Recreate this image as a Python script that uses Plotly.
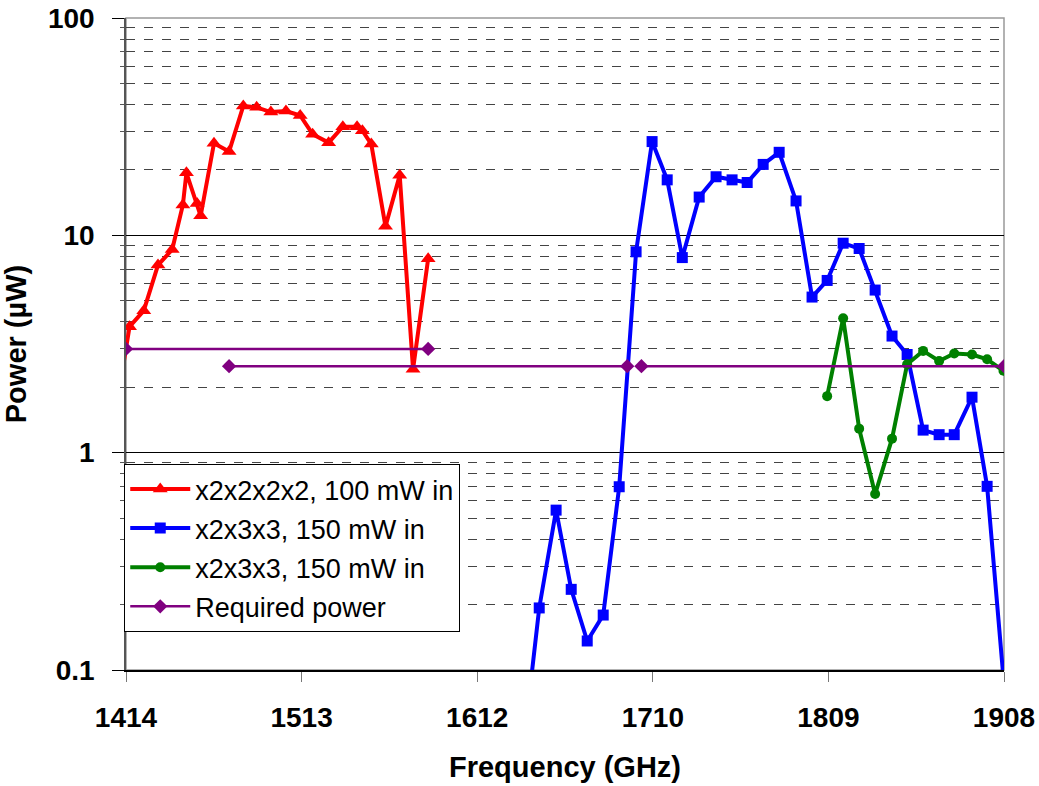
import numpy as np
import plotly.graph_objects as go

# x2x2x2x2 chain, 100 mW in (first point lies just left of the axis)
red_f = [1408, 1416, 1424, 1432, 1440, 1446, 1448, 1454, 1456, 1463.5, 1472, 1480,
         1487.5, 1495.5, 1504, 1512, 1519, 1528, 1536, 1544, 1547, 1552, 1560,
         1568, 1575.5, 1584]
red_p = [1.5, 3.8, 4.5, 7.3, 8.6, 13.8, 19.4, 14.0, 12.3, 26.5, 24.3, 39.4,
         38.8, 36.9, 37.3, 35.6, 29.2, 26.7, 31.6, 31.6, 30.3, 26.3, 11.0,
         18.9, 2.42, 7.8]

# x2x3x3 chain, 150 mW in (blue)
blue_f = [1637, 1646.5, 1656, 1664.5, 1673.5, 1682.5, 1691.5, 1701, 1710, 1718.5,
          1727, 1736.5, 1746, 1755, 1763.5, 1772.5, 1781.5, 1791, 1800, 1808.5,
          1817.5, 1826.5, 1835.5, 1845, 1853.5, 1862.5, 1871.5, 1880, 1890,
          1898.5, 1916]
blue_p = [0.04, 0.193, 0.544, 0.235, 0.136, 0.179, 0.697, 8.4, 27.0, 18.0,
          7.9, 15.0, 18.6, 18.0, 17.5, 21.2, 24.1, 14.4, 5.2, 6.2,
          9.2, 8.7, 5.6, 3.44, 2.83, 1.27, 1.21, 1.21, 1.80,
          0.70, 0.0146]

# x2x3x3 chain, 150 mW in (green)
green_f = [1808.5, 1817.5, 1826.5, 1835.5, 1845, 1853.5, 1862.5, 1871.5, 1880,
           1890, 1898.5, 1907.7, 1916]
green_p = [1.82, 4.15, 1.29, 0.645, 1.16, 2.55, 2.94, 2.64, 2.86,
           2.83, 2.69, 2.38, 1.8]

# required power, three separate bands
req_f = [1414, 1584, None, 1472, 1696, None, 1704, 1908]
req_p = [3.0, 3.0, None, 2.5, 2.5, None, 2.5, 2.5]

x_ticks = np.linspace(1414, 1908, 6)
x_labels = ["1414", "1513", "1612", "1710", "1809", "1908"]
y_ticks = [0.1, 1, 10, 100]
y_labels = ["0.1", "1", "10", "100"]

FONT = "Liberation Sans, Arial, sans-serif"

fig = go.Figure()
fig.add_trace(go.Scatter(x=red_f, y=red_p, mode="lines+markers",
                         name="x2x2x2x2, 100 mW in", legendgroup="a",
                         line=dict(color="#ff0000", width=4),
                         marker=dict(symbol="triangle-up", size=13, color="#ff0000")))
fig.add_trace(go.Scatter(x=blue_f, y=blue_p, mode="lines+markers",
                         name="x2x3x3, 150 mW in", legendgroup="b",
                         line=dict(color="#0000ff", width=4),
                         marker=dict(symbol="square", size=11, color="#0000ff")))
fig.add_trace(go.Scatter(x=green_f, y=green_p, mode="lines+markers",
                         name="x2x3x3, 150 mW in", legendgroup="c",
                         line=dict(color="#008000", width=4),
                         marker=dict(symbol="circle", size=10, color="#008000")))
fig.add_trace(go.Scatter(x=req_f, y=req_p, mode="lines+markers",
                         name="Required power", legendgroup="d",
                         line=dict(color="#800080", width=2.5),
                         marker=dict(symbol="diamond", size=11, color="#800080")))

minor_vals = [m * 10.0 ** e for e in (-1, 0, 1) for m in range(2, 10)]

fig.update_layout(
    width=1039, height=786,
    margin=dict(l=126, r=35, t=18, b=116),
    paper_bgcolor="white", plot_bgcolor="white",
    font=dict(family=FONT, color="black"),
    showlegend=True,
    legend=dict(x=-0.002, y=0.316, xanchor="left", yanchor="top",
                bgcolor="white", bordercolor="black", borderwidth=1,
                font=dict(size=27, family=FONT), tracegroupgap=1,
                itemwidth=60),
    xaxis=dict(range=[1414, 1908], tickmode="array", tickvals=x_ticks,
               ticktext=x_labels, ticks="outside", ticklen=10, tickcolor="#777",
               ticklabelstandoff=12, automargin=False,
               showgrid=False, showline=True, linecolor="black", linewidth=1.5,
               mirror=False, zeroline=False,
               tickfont=dict(size=28, family=FONT, weight="bold"),
               title=dict(text="Frequency (GHz)", standoff=24,
                          font=dict(size=29, family=FONT, weight="bold"))),
    yaxis=dict(type="log", range=[-1, 2], tickmode="array", tickvals=y_ticks,
               ticktext=y_labels, ticks="outside", ticklen=12, tickcolor="black",
               ticklabelstandoff=12, automargin=False,
               showgrid=True, gridcolor="black", gridwidth=1,
               showline=True, linecolor="#555", linewidth=1.5,
               zeroline=False,
               minor=dict(tickmode="array", tickvals=minor_vals, showgrid=True,
                          gridcolor="#444", griddash="dash", gridwidth=1,
                          ticks="outside", ticklen=4, tickcolor="#555"),
               tickfont=dict(size=28, family=FONT, weight="bold"),
               title=dict(text="Power (µW)", standoff=16,
                          font=dict(size=29, family=FONT, weight="bold"))),
)

# thin grey frame on top and right of the plotting area
fig.add_shape(type="rect", xref="paper", yref="paper", x0=0, y0=0, x1=1, y1=1,
              line=dict(color="#999", width=1.5), layer="below")

# drop the page's default body margin so the figure fills the window exactly
fig.write_html("out.html", config={"displayModeBar": False},
               post_script="document.body.style.margin='0';")
